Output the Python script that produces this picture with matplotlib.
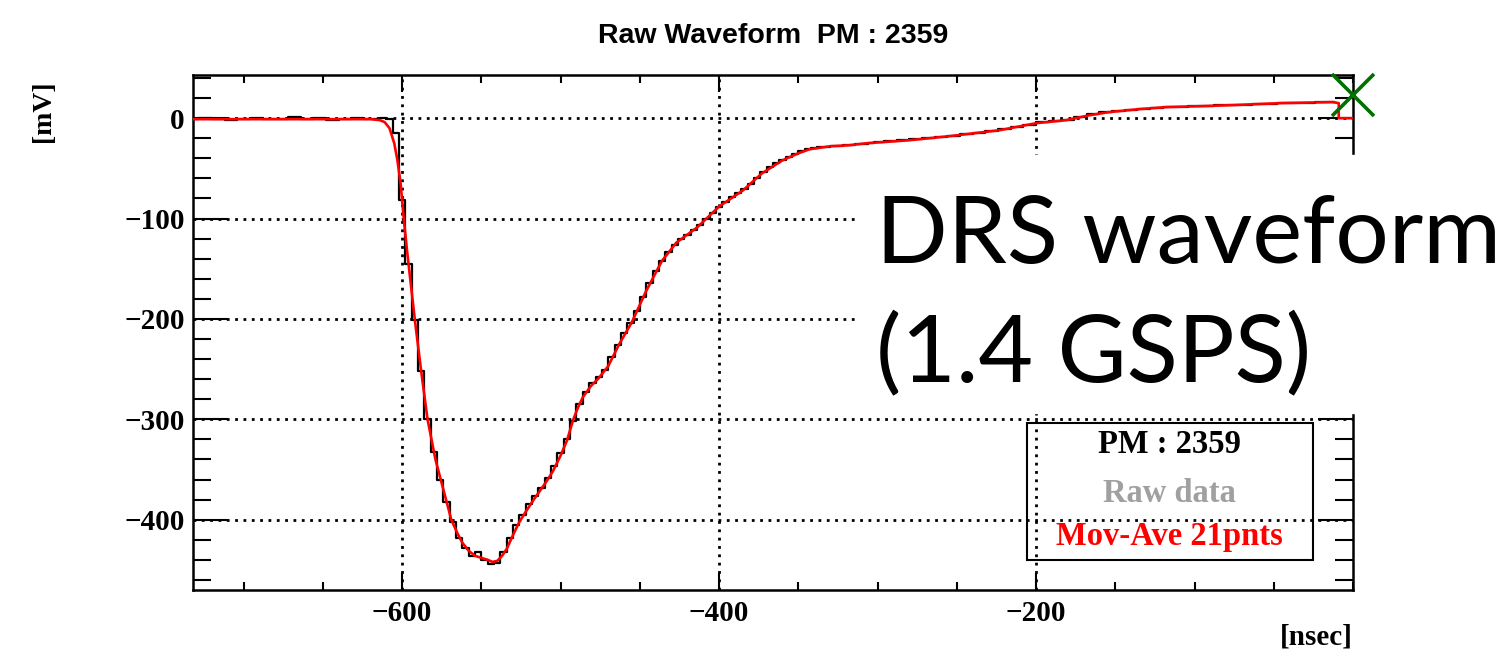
#!/usr/bin/env python3

import matplotlib
matplotlib.use('Agg')
import matplotlib.pyplot as plt
import numpy as np
from matplotlib.patches import Rectangle
from matplotlib.ticker import MultipleLocator, FixedLocator

# raw DRS samples (mV), on three sampling grids
raw_ns = np.concatenate([np.arange(-732, -616, 8),
                         np.arange(-616, -300, 4),
                         np.arange(-300, -4, 8)])
raw_base = [-1, 0, -1, -2, -1, 0, -1, -1, 1, -1, 0, -2, -1, 0, -1]
raw_pulse = [-1, 0, -1, -15, -82, -145, -201, -252, -300, -333,
             -360, -382, -402, -418, -428, -436, -432, -440, -444, -443,
             -432, -418, -405, -395, -384, -376, -368, -358, -346, -334,
             -320, -302, -285, -273, -264, -258, -251, -238, -226, -214,
             -204, -192, -178, -164, -152, -142, -133, -126, -120, -116,
             -111, -106, -100, -94, -88, -84, -79, -75, -71, -66,
             -60, -54, -49, -45, -42, -39, -36, -33, -31, -30,
             -29, -29, -28, -28, -27, -27, -26, -26, -25]
raw_tail = [-24, -23, -22, -21, -20, -19, -18, -16, -15, -13,
            -11, -9, -7, -4, -3, -2, 1, 4, 6, 7,
            8, 9, 10, 11, 11, 12, 12, 13, 13, 13,
            14, 14, 15, 15, 15, 16, 16]
raw_mv = np.array(raw_base + raw_pulse + raw_tail)

# 21-point moving average (red curve)
ave_ns = [-732, -650, -620, -614, -611, -608, -605, -603, -601, -599,
          -597, -592, -588, -584, -579, -574, -569, -565, -562, -558,
          -554, -550, -546, -543, -540, -537, -534, -530, -526, -522,
          -517, -513, -509, -505, -500, -496, -492, -489, -486, -481,
          -476, -470, -463, -455, -446, -436, -427, -414, -400, -385,
          -373, -360, -350, -343, -330, -318, -307, -280, -255, -223,
          -200, -181, -166, -154, -135, -118, -95, -76, -45, -13,
          -9, -9, 0]
ave_mv = [-1, -1, -1, -2, -4, -10, -25, -42, -65, -100,
          -131, -201, -252, -300, -340, -370, -400, -414, -423, -431,
          -436, -438, -440, -442, -441, -436, -429, -415, -402, -392,
          -380, -371, -362, -352, -336, -321, -300, -288, -278, -267,
          -259, -247, -225, -203, -172, -142, -124, -109, -88, -72,
          -55, -42, -35, -31, -28, -27, -25, -22, -18, -12,
          -5, -2, 3, 6, 9, 11, 12, 13, 15, 16,
          15, 0, 0]

marker_ns, marker_mv = [0], [23]
x_ticks = [-600, -400, -200]
legend_lines = ['PM : 2359', 'Raw data', 'Mov-Ave 21pnts']
legend_colors = ['black', '#a0a0a0', 'red']

W, H = 1507, 650
fig = plt.figure(figsize=(W / 100, H / 100), dpi=100)
ax = fig.add_axes([193 / W, 1 - 590 / H, 1160 / W, 515 / H])

serif = ['Liberation Serif', 'DejaVu Serif']

# data
ax.step(raw_ns, raw_mv, where='mid', color='black', lw=1.6, zorder=3)
ax.plot(ave_ns, ave_mv, color='red', lw=1.9, zorder=4)
ax.plot(marker_ns, marker_mv, 'x', color='#007000', ms=30, mew=2.6,
        clip_on=False, zorder=6)

ax.set_xlim(-732, 0)
ax.set_ylim(-470, 43)

# ROOT-ish axes: ticks inside on all sides, dotted grid
ax.xaxis.set_major_locator(FixedLocator(x_ticks))
ax.xaxis.set_minor_locator(MultipleLocator(50))
ax.yaxis.set_major_locator(MultipleLocator(100))
ax.yaxis.set_minor_locator(MultipleLocator(20))
ax.tick_params(axis='both', which='both', direction='in',
               top=True, right=True, width=1.5)
ax.tick_params(axis='x', which='major', length=12.5, pad=7)
ax.tick_params(axis='x', which='minor', length=5.5)
ax.tick_params(axis='y', which='major', length=25, pad=6)
ax.tick_params(axis='y', which='minor', length=13)
for lab in ax.get_xticklabels() + ax.get_yticklabels():
    lab.set_fontfamily(serif)
    lab.set_fontweight('bold')
    lab.set_fontsize(21)
for sp in ax.spines.values():
    sp.set_linewidth(1.8)
ax.grid(True, which='major', color='black', lw=2.0,
        linestyle=(0, (1, 2)), zorder=1)
ax.set_axisbelow(True)

# legend box (no fill, grid shows through)
ax.add_patch(Rectangle((0.719, 0.0583), 0.9655 - 0.719, 0.3243 - 0.0583,
                       transform=ax.transAxes, fill=False, ec='black',
                       lw=1.5, zorder=5))
for txt, col, yy in zip(legend_lines, legend_colors, [0.2816, 0.188, 0.103]):
    ax.text(0.842, yy, txt, transform=ax.transAxes, ha='center', va='center',
            color=col, fontsize=23.5, fontweight='bold', family=serif, zorder=6)

# titles
fig.text(773 / W, 1 - 36 / H, 'Raw Waveform  PM : 2359', ha='center',
         va='center', fontsize=20.5, fontweight='bold',
         family=['Liberation Sans', 'DejaVu Sans'])
fig.text(43 / W, 1 - 80 / H, '[mV]', rotation=90, ha='center', va='top',
         fontsize=20, fontweight='bold', family=serif)
fig.text(1353 / W, 1 - 637 / H, '[nsec]', ha='right', va='center',
         fontsize=21, fontweight='bold', family=serif)

# white panel with the annotation, drawn over the axes
fig.add_artist(Rectangle((858 / W, 1 - 413 / H), (W - 858) / W, 258 / H,
                         transform=fig.transFigure, color='white', zorder=2))
fig.text(876 / W, 1 - 263 / H, 'DRS waveform', ha='left', va='baseline',
         fontsize=68, family=['Lato', 'DejaVu Sans'], zorder=3)
fig.text(876 / W, 1 - 382 / H, '(1.4 GSPS)', ha='left', va='baseline',
         fontsize=68, family=['Lato', 'DejaVu Sans'], zorder=3)

plt.savefig('out.png', dpi=100)
